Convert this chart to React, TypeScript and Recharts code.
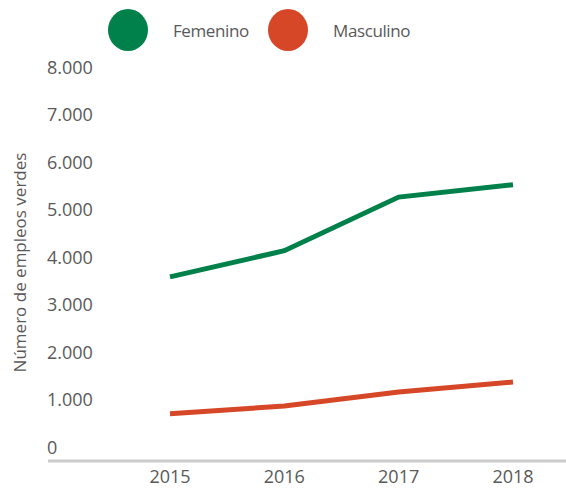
import {LineChart, Line, XAxis, YAxis, Legend} from 'recharts';

const years = ['2015', '2016', '2017', '2018'];
const femenino = [3600, 4150, 5280, 5540];
const masculino = [715, 880, 1175, 1385];
const yTicks = [0, 1000, 2000, 3000, 4000, 5000, 6000, 7000, 8000];

const data = years.map((year, i) => ({
  year,
  femenino: femenino[i],
  masculino: masculino[i],
}));

const GREEN = '#00804A';
const RED = '#D64727';
const TEXT = '#595959';
const FONT = '"Open Sans", sans-serif';

const fmt = (v: number) => v.toLocaleString('de-DE');

const YTick = (props: any) => {
  const {y, payload} = props;
  return (
    <text x={47} y={y} dy={6} textAnchor="start" fill={TEXT} fontSize={18} fontFamily={FONT}>
      {fmt(payload.value)}
    </text>
  );
};

const YLabel = (props: any) => {
  const {viewBox} = props;
  const cx = viewBox.x + 19;
  const cy = viewBox.y + viewBox.height / 2 - 2;
  return (
    <text
      x={cx}
      y={cy}
      transform={`rotate(-90, ${cx}, ${cy})`}
      textAnchor="middle"
      dominantBaseline="central"
      fill={TEXT}
      fontSize={17}
      fontFamily={FONT}>
      Número de empleos verdes
    </text>
  );
};

const renderLegend = (props: any) => {
  const {payload} = props;
  return (
    <div style={{height: 60, display: 'flex', alignItems: 'center', paddingLeft: 108}}>
      {payload.map((entry: any) => (
        <div key={entry.value} style={{display: 'flex', alignItems: 'center', width: 160}}>
          <span
            style={{
              width: 40,
              height: 42,
              borderRadius: '50%',
              background: entry.color,
              display: 'inline-block',
              flex: 'none',
            }}
          />
          <span
            style={{
              marginLeft: 25,
              fontSize: 17,
              color: TEXT,
              fontFamily: FONT,
              letterSpacing: -0.4,
            }}>
            {entry.value === 'femenino' ? 'Femenino' : 'Masculino'}
          </span>
        </div>
      ))}
    </div>
  );
};

export default function App() {
  return (
    <div style={{position: 'absolute', left: 0, top: 0, background: '#fff'}}>
      <LineChart width={566} height={496} data={data} margin={{top: 8, right: 0, bottom: 0, left: 0}}>
        <Legend verticalAlign="top" content={renderLegend} wrapperStyle={{top: 0, left: 0}} />
        <XAxis
          dataKey="year"
          height={35}
          padding={{left: 122, right: 53}}
          axisLine={{stroke: '#CCCCCC', strokeWidth: 3}}
          tickLine={false}
          tick={{fill: TEXT, fontSize: 18, fontFamily: FONT}}
          tickMargin={3}
        />
        <YAxis
          width={48}
          domain={[-280, 8000]}
          ticks={yTicks}
          axisLine={false}
          tickLine={false}
          tick={<YTick />}
          label={<YLabel />}
          allowDataOverflow
        />
        <Line
          dataKey="femenino"
          stroke={GREEN}
          strokeWidth={5}
          dot={false}
          isAnimationActive={false}
        />
        <Line
          dataKey="masculino"
          stroke={RED}
          strokeWidth={5}
          dot={false}
          isAnimationActive={false}
        />
      </LineChart>
    </div>
  );
}
